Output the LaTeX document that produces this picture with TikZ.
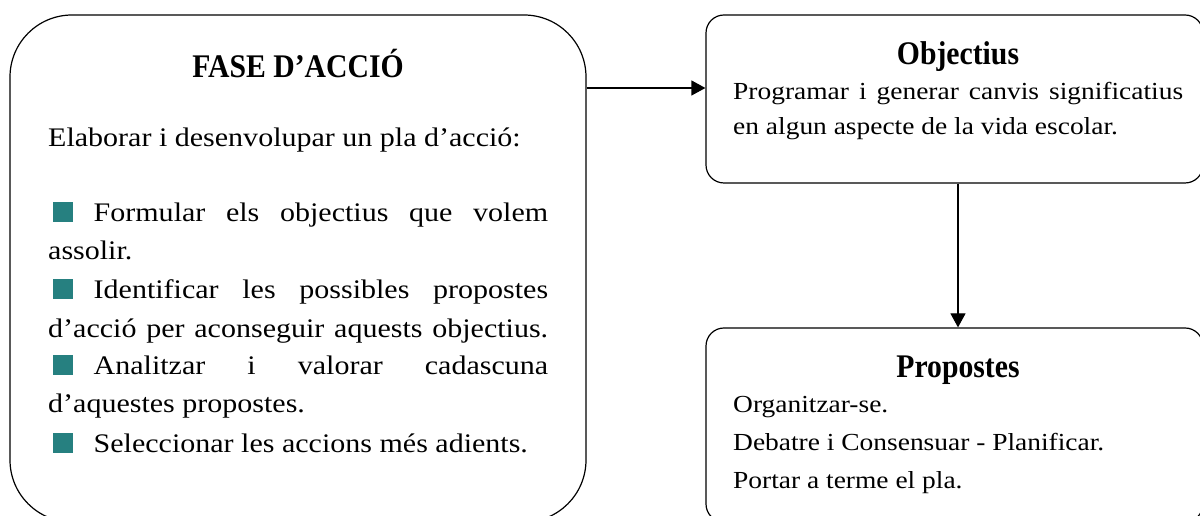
\documentclass[tikz,border=0pt]{standalone}
\usepackage{fontspec}
\setmainfont{Liberation Serif}[FakeStretch=1.12]
\newfontfamily\ttlfont{Liberation Serif}[FakeStretch=0.9]
\usetikzlibrary{arrows.meta}
\definecolor{bulc}{RGB}{38,128,128}
\newcommand{\leftbody}{\fontsize{26.8pt}{38pt}\selectfont}
\newcommand{\rightbody}{\fontsize{24.5pt}{36pt}\selectfont}
\newcommand{\titlefont}{\ttlfont\bfseries\fontsize{33pt}{40pt}\selectfont}
\newcommand{\bul}{\hspace*{5pt}\textcolor{bulc}{\rule{19.5pt}{19.5pt}}\hspace*{21pt}}
\begin{document}
\begin{tikzpicture}[x=1pt,y=1pt,
  box/.style={draw, line width=1.2pt, inner sep=0pt},
  txt/.style={anchor=base west, inner sep=0pt, font=\leftbody},
  rtxt/.style={anchor=base west, inner sep=0pt, font=\rightbody},
  ttl/.style={anchor=base, inner sep=0pt, font=\titlefont},
  arr/.style={line width=1.2pt, -{Triangle[length=14pt,width=15pt]}}]
\useasboundingbox (0,0) rectangle (1200,516);
\fill[white] (0,0) rectangle (1200,516);
% boxes
\node[box, rounded corners=62pt, minimum width=576pt, minimum height=507pt] (L) at (298,247.5) {};
\node[box, rounded corners=18pt, minimum width=497pt, minimum height=168pt] (O) at (954.5,417) {};
\node[box, rounded corners=18pt, minimum width=497pt, minimum height=194pt] (P) at (954.5,91) {};
% connectors
\path (L.east |- O.west) ++(0,11) coordinate (a1);
\path (O.west) ++(0,11) coordinate (a2);
\draw[arr] (a1) -- (a2);
\draw[arr] ([xshift=3.5pt]O.south) -- ([xshift=3.5pt]P.north);
% left box text
\node[ttl] (t1) at (298,438) {FASE D’ACCIÓ};
\node[txt] (e) at (48,369) {Elaborar i desenvolupar un pla d’acció:};
\node[txt] (l1) at (48,294) {\makebox[500pt][s]{\bul Formular els objectius que volem}};
\node[txt] (l2) at (48,256) {assolir.};
\node[txt] (l3) at (48,217) {\makebox[500pt][s]{\bul Identificar les possibles propostes}};
\node[txt] (l4) at (48,178) {\makebox[500pt][s]{d’acció per aconseguir aquests objectius.}};
\node[txt] (l5) at (48,141) {\makebox[500pt][s]{\bul Analitzar i valorar cadascuna}};
\node[txt] (l6) at (48,103) {d’aquestes propostes.};
\node[txt] (l7) at (48,63) {\bul Seleccionar les accions més adients.};
% objectius
\node[ttl] (t2) at (958,451) {Objectius};
\node[rtxt] (o1) at (733,416) {\makebox[450pt][s]{Programar i generar canvis significatius}};
\node[rtxt] (o2) at (733,381) {en algun aspecte de la vida escolar.};
% propostes
\node[ttl] (t3) at (958,138) {Propostes};
\node[rtxt] (p1) at (733,103) {Organitzar-se.};
\node[rtxt] (p2) at (733,65) {Debatre i Consensuar - Planificar.};
\node[rtxt] (p3) at (733,27) {Portar a terme el pla.};
\end{tikzpicture}
\end{document}
